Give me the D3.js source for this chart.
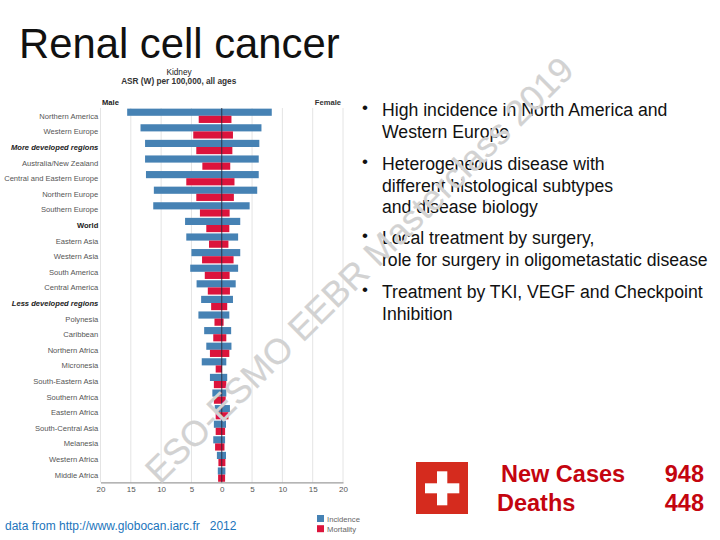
<!DOCTYPE html>
<html><head><meta charset="utf-8">
<script src="https://cdn.jsdelivr.net/npm/d3@7"></script>
<style>html,body{margin:0;padding:0;background:#fff}svg{display:block}text{font-family:"Liberation Sans",Arial,sans-serif}</style>
</head><body><svg id="c" width="720" height="540"></svg>
<script>
const regions=["Northern America","Western Europe","More developed regions","Australia/New Zealand","Central and Eastern Europe","Northern Europe","Southern Europe","World","Eastern Asia","Western Asia","South America","Central America","Less developed regions","Polynesia","Caribbean","Northern Africa","Micronesia","South-Eastern Asia","Southern Africa","Eastern Africa","South-Central Asia","Melanesia","Western Africa","Middle Africa"];
const boldRegions=["More developed regions","World","Less developed regions"];
const italicRegions=["More developed regions","Less developed regions"];
const incidenceMale=[15.6,13.4,12.65,12.65,12.5,11.2,11.3,6.05,5.85,5.0,5.2,4.15,3.4,3.85,2.9,2.55,3.3,1.95,1.55,1.15,1.3,1.4,0.8,0.65];
const incidenceFemale=[8.25,6.55,6.2,6.1,6.1,5.85,4.6,3.05,2.7,3.05,2.7,2.3,1.85,1.25,1.55,1.6,0.75,0.9,0.75,1.35,0.7,0.55,0.7,0.6];
const mortalityMale=[3.8,4.7,4.2,3.2,5.85,4.2,3.6,2.55,2.1,3.25,2.8,2.3,1.75,1.2,1.4,1.95,1.0,1.3,1.3,1.0,1.0,1.1,0.55,0.6];
const mortalityFemale=[1.6,1.85,1.75,1.4,2.1,2.0,1.3,1.25,1.1,1.95,1.3,1.35,0.9,0.3,0.75,1.25,0.05,0.75,0.65,1.1,0.55,0.45,0.6,0.55];
const ticks=[-20,-15,-10,-5,0,5,10,15,20];
const bullets=[["High incidence in North America and","Western Europe"],["Heterogeneous disease with","different histological subtypes","and disease biology"],["Local treatment by surgery,","role for surgery in oligometastatic disease"],["Treatment by TKI, VEGF and Checkpoint","Inhibition"]];
const stats=[["New Cases","948"],["Deaths","448"]];
const legendItems=["Incidence","Mortality"];
const BLUE="#4682b4",RED="#dc143c",DARK="#c4050f";

const svg=d3.select("#c");
svg.append("text").attr("x",19).attr("y",58).attr("font-size",41.8).attr("fill","#111").text("Renal cell cancer");

const x=d3.scaleLinear().domain([-20,20]).range([100.5,343]);
const y=d3.scaleBand().domain(regions).range([108,482.4]);
const sub=d3.scaleBand().domain(["inc","mort"]).range([0,y.bandwidth()]).paddingOuter(0.09);

svg.append("g").selectAll("line").data(ticks).join("line")
 .attr("x1",d=>x(d)).attr("x2",d=>x(d)).attr("y1",108).attr("y2",482.4)
 .attr("stroke","#e4e4e4").attr("stroke-width",1);

svg.append("text").attr("x",179).attr("y",74.7).attr("text-anchor","middle").attr("font-size",8.25).attr("fill","#222").text("Kidney");
svg.append("text").attr("x",178.7).attr("y",84.3).attr("text-anchor","middle").attr("font-size",8.25).attr("font-weight","bold").attr("fill","#333").text("ASR (W) per 100,000, all ages");
svg.append("text").attr("x",102).attr("y",105).attr("font-size",7.6).attr("font-weight","bold").attr("fill","#222").text("Male");
svg.append("text").attr("x",341).attr("y",105).attr("text-anchor","end").attr("font-size",7.6).attr("font-weight","bold").attr("fill","#333").text("Female");

const rows=svg.append("g").selectAll("g").data(regions).join("g").attr("transform",d=>`translate(0,${y(d)})`);
rows.append("rect").attr("fill",BLUE).attr("y",sub("inc")).attr("height",sub.bandwidth())
 .attr("x",(d,i)=>x(-incidenceMale[i])).attr("width",(d,i)=>x(incidenceFemale[i])-x(-incidenceMale[i]));
rows.append("rect").attr("fill",RED).attr("y",sub("mort")).attr("height",sub.bandwidth())
 .attr("x",(d,i)=>x(-mortalityMale[i])).attr("width",(d,i)=>x(mortalityFemale[i])-x(-mortalityMale[i]));
rows.append("text").attr("x",98.3).attr("y",y.bandwidth()/2+3).attr("text-anchor","end").attr("font-size",7.6)
 .attr("fill",d=>boldRegions.includes(d)?"#222":"#555")
 .attr("font-weight",d=>boldRegions.includes(d)?"bold":"normal")
 .attr("font-style",d=>italicRegions.includes(d)?"italic":"normal").text(d=>d);

svg.append("line").attr("x1",x(0)).attr("x2",x(0)).attr("y1",108).attr("y2",482.4).attr("stroke","#223").attr("stroke-width",0.8);
const ax=svg.append("g").attr("transform","translate(0,482.4)").call(d3.axisBottom(x).tickValues(ticks).tickFormat(d=>Math.abs(d)).tickSize(0).tickPadding(4));
ax.select(".domain").attr("stroke","#666").attr("stroke-width",0.8);
ax.selectAll("text").attr("font-size",8).attr("fill","#555").style("font-family",'"Liberation Sans",Arial,sans-serif');

const lg=svg.append("g").selectAll("g").data(legendItems).join("g").attr("transform",(d,i)=>`translate(317,${515+i*10.2})`);
lg.append("rect").attr("width",7).attr("height",7).attr("fill",(d,i)=>i?RED:BLUE);
lg.append("text").attr("x",10).attr("y",6.5).attr("font-size",7.7).attr("fill","#666").text(d=>d);

svg.append("text").attr("x",5).attr("y",530).attr("font-size",12).attr("fill","#1c75bc").style("white-space","pre").text("data from http://www.globocan.iarc.fr   2012");

const bx=svg.append("g");
const by=[116,170,244,298];
bullets.forEach((b,i)=>{
 bx.append("text").attr("x",362).attr("y",by[i]-3).attr("font-size",17).attr("fill","#111").text("•");
 b.forEach((l,j)=>bx.append("text").attr("x",382).attr("y",by[i]+j*21.6).attr("font-size",17.65).attr("fill","#111").text(l));
});

svg.append("rect").attr("x",416).attr("y",462).attr("width",52).attr("height",52).attr("fill","#d52b1e");
svg.append("rect").attr("x",425).attr("y",483.3).attr("width",34.3).attr("height",10).attr("fill","#fff");
svg.append("rect").attr("x",437).attr("y",471.3).attr("width",10.3).attr("height",34).attr("fill","#fff");
const st=svg.append("g").selectAll("g").data(stats).join("g");
st.append("text").attr("x",(d,i)=>i?497:501).attr("y",(d,i)=>i?511:482).attr("font-size",23.5).attr("font-weight","bold").attr("fill",DARK).text(d=>d[0]);
st.append("text").attr("x",704).attr("y",(d,i)=>i?511:482).attr("text-anchor","end").attr("font-size",23.5).attr("font-weight","bold").attr("fill",DARK).text(d=>d[1]);

svg.append("text").attr("transform","translate(160,485) rotate(-44.8)").attr("font-size",35.5).attr("fill","#d2d2d2").attr("stroke","#d2d2d2").attr("stroke-width",0.2).text("ESO-ESMO EEBR Masterclass 2019");
</script></body></html>
